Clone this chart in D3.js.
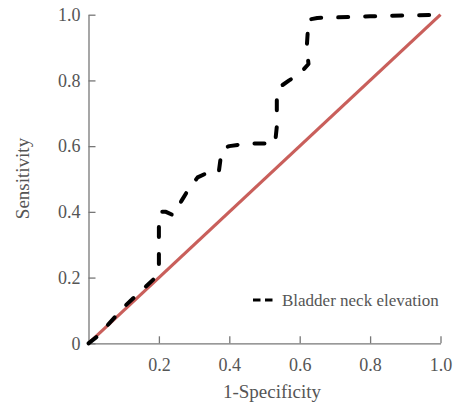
<!DOCTYPE html>
<html>
<head>
<meta charset="utf-8">
<script src="https://cdn.jsdelivr.net/npm/d3@7"></script>
<style>
  html, body { margin: 0; padding: 0; background: #fff; }
  svg { display: block; }
  text { font-family: "Liberation Serif", "Times New Roman", serif; fill: #555; }
</style>
</head>
<body>
<svg id="chart" width="459" height="405"></svg>
<script>
// ROC curve: Bladder neck elevation
const fpr = [0, 0.03, 0.05, 0.10, 0.13, 0.16, 0.19, 0.20, 0.20, 0.205, 0.22, 0.24, 0.265, 0.285, 0.31, 0.34, 0.37, 0.375, 0.385, 0.40, 0.45, 0.53, 0.535, 0.535, 0.55, 0.57, 0.60, 0.625, 0.62, 0.625, 0.65, 0.80, 1.0];
const tpr = [0, 0.025, 0.05, 0.11, 0.14, 0.17, 0.20, 0.24, 0.38, 0.40, 0.40, 0.39, 0.435, 0.47, 0.505, 0.52, 0.52, 0.56, 0.595, 0.60, 0.608, 0.608, 0.66, 0.76, 0.785, 0.80, 0.82, 0.85, 0.90, 0.985, 0.99, 0.995, 1.0];
const refLine = [0, 1];
const xTicks = [0.2, 0.4, 0.6, 0.8, 1.0];
const yTicks = [0, 0.2, 0.4, 0.6, 0.8, 1.0];
const seriesName = "Bladder neck elevation";
const xTitle = "1-Specificity";
const yTitle = "Sensitivity";

const svg = d3.select("#chart");
const x = d3.scaleLinear().domain([0, 1]).range([88.5, 440.5]);
const y = d3.scaleLinear().domain([0, 1]).range([343.3, 14.7]);

const fmt = d => d === 0 ? "0" : d.toFixed(1);

const gx = svg.append("g").attr("transform", `translate(0,${y(0)})`)
  .call(d3.axisBottom(x).tickValues(xTicks).tickFormat(fmt).tickSizeInner(-7).tickSizeOuter(0).tickPadding(14.5));
const gy = svg.append("g").attr("transform", `translate(${x(0)},0)`)
  .call(d3.axisLeft(y).tickValues(yTicks).tickFormat(fmt).tickSizeInner(-7).tickSizeOuter(0).tickPadding(8));

[gx, gy].forEach(g => {
  g.select(".domain").attr("stroke", "#777").attr("stroke-width", 1.3);
  g.selectAll(".tick line").attr("stroke", "#777").attr("stroke-width", 1.3);
  g.selectAll(".tick text").attr("fill", "#555").style("font-size", "18px")
    .style("font-family", '"Liberation Serif", "Times New Roman", serif');
});

// reference diagonal
svg.append("line")
  .attr("x1", x(refLine[0])).attr("y1", y(refLine[0]))
  .attr("x2", x(refLine[1])).attr("y2", y(refLine[1]))
  .attr("stroke", "#c95f5b").attr("stroke-width", 3.2);

// ROC dashed curve
const pts = fpr.map((v, i) => [v, tpr[i]]);
svg.append("path")
  .datum(pts)
  .attr("fill", "none")
  .attr("stroke", "#000")
  .attr("stroke-width", 4)
  .attr("stroke-linecap", "round")
  .attr("stroke-linejoin", "round")
  .attr("stroke-dasharray", "10,17")
  .attr("d", d3.line().x(d => x(d[0])).y(d => y(d[1])));

// legend
svg.append("line").attr("x1", 253).attr("x2", 274).attr("y1", 300).attr("y2", 300)
  .attr("stroke", "#000").attr("stroke-width", 3).attr("stroke-dasharray", "7.5,4.5");
svg.append("text").attr("x", 282).attr("y", 306).style("font-size", "17px").text(seriesName);

// axis titles
svg.append("text").attr("x", 272).attr("y", 398).attr("text-anchor", "middle")
  .style("font-size", "19px").text(xTitle);
svg.append("text").attr("transform", "translate(29,178.5) rotate(-90)").attr("text-anchor", "middle")
  .style("font-size", "19px").text(yTitle);
</script>
</body>
</html>
